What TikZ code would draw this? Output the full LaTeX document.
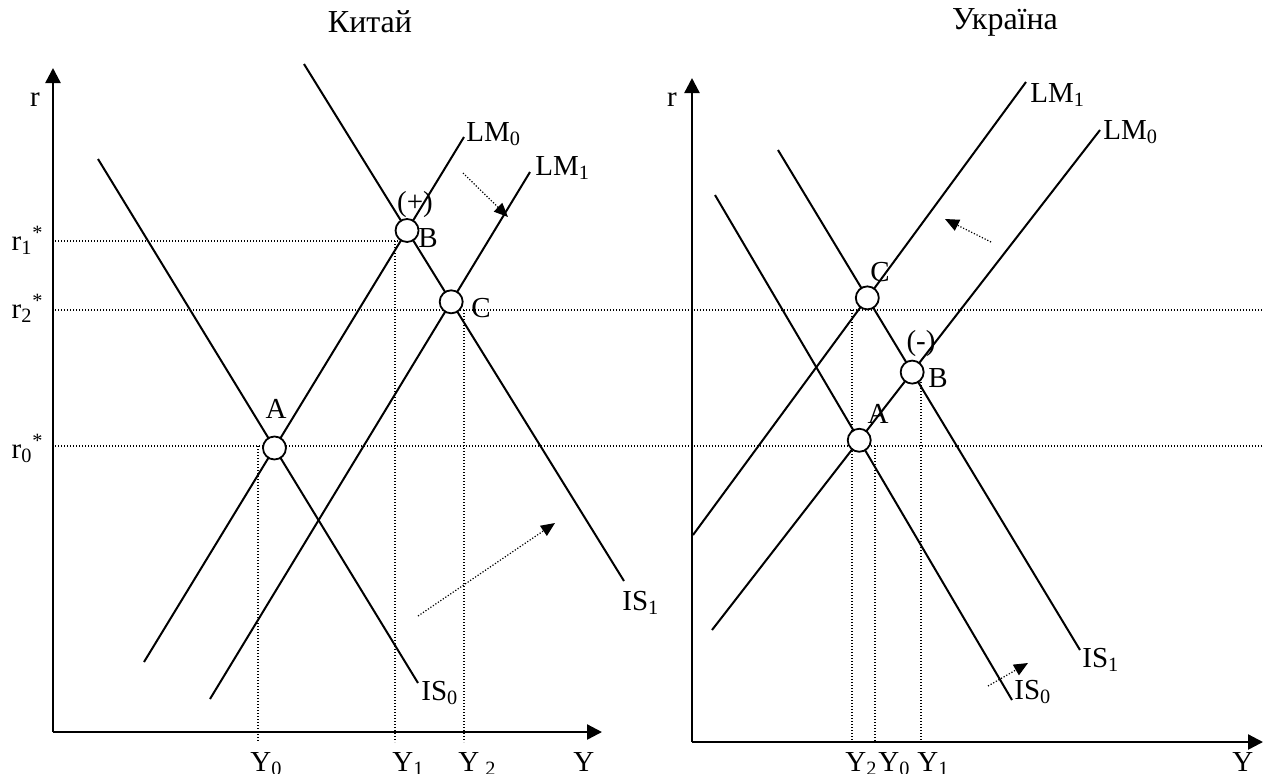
\documentclass[tikz,border=0pt]{standalone}
\usepackage{fontspec}
\setmainfont{Liberation Serif}
\usetikzlibrary{arrows.meta}
\begin{document}
\begin{tikzpicture}[x=0.5pt,y=-0.5pt]
\tikzset{
  curve/.style={line width=1pt},
  axisline/.style={line width=1.2pt,-{Triangle[length=7.5pt,width=7.5pt]}},
  guide/.style={line width=0.6pt,dash pattern=on 0.6pt off 0.9pt},
  shiftarrow/.style={guide,-{Triangle[length=7pt,width=6pt]}},
  eqpt/.style={circle,draw,line width=0.9pt,fill=white,minimum size=11.5pt,inner sep=0pt},
  lbl/.style={font=\fontsize{14.5}{17}\selectfont,inner sep=0pt},
  ttl/.style={font=\fontsize{16}{19}\selectfont,inner sep=0pt},
}
\useasboundingbox (0,0) rectangle (1270,773);
% titles
\node[ttl] (t1) at (370,22) {Китай};
\node[ttl] (t2) at (1005,22) {Україна};
% ---------- axes
\coordinate (LO) at (53,732);
\coordinate (LYt) at (53,68);
\coordinate (LXr) at (602,732);
\coordinate (RO) at (692,742);
\coordinate (RYt) at (692,78);
\coordinate (RXr) at (1263,742);
% ---------- guide lines
\coordinate (g1a) at (55,241); \coordinate (g1b) at (404,241);
\coordinate (g2a) at (55,310); \coordinate (g2b) at (1262,310);
\coordinate (g0a) at (55,446); \coordinate (g0b) at (1262,446);
\draw[guide] (g1a) -- (g1b);
\draw[guide] (g2a) -- (g2b);
\draw[guide] (g0a) -- (g0b);
\coordinate (v0a) at (258,446); \coordinate (v0b) at (258,742);
\coordinate (v1a) at (395,241); \coordinate (v1b) at (395,742);
\coordinate (v2a) at (464,310); \coordinate (v2b) at (464,742);
\draw[guide] (v0a) -- (v0b);
\draw[guide] (v1a) -- (v1b);
\draw[guide] (v2a) -- (v2b);
\coordinate (w2a) at (852,310); \coordinate (w2b) at (852,742);
\coordinate (w0a) at (875,446); \coordinate (w0b) at (875,742);
\coordinate (w1a) at (921,370); \coordinate (w1b) at (921,742);
\draw[guide] (w2a) -- (w2b);
\draw[guide] (w0a) -- (w0b);
\draw[guide] (w1a) -- (w1b);
% axes drawn
\draw[axisline] (LO) -- (LYt);
\draw[axisline] (LO) -- (LXr);
\draw[axisline] (RO) -- (RYt);
\draw[axisline] (RO) -- (RXr);
% ---------- left curves
\coordinate (is0a) at (98,159);  \coordinate (is0b) at (418,683);
\coordinate (is1a) at (304,64);  \coordinate (is1b) at (624,581);
\coordinate (lm0a) at (144,662); \coordinate (lm0b) at (464,137);
\coordinate (lm1a) at (210,699); \coordinate (lm1b) at (530,172);
\draw[curve] (is0a) -- (is0b);
\draw[curve] (is1a) -- (is1b);
\draw[curve] (lm0a) -- (lm0b);
\draw[curve] (lm1a) -- (lm1b);
% ---------- right curves
\coordinate (ris0a) at (715,195);  \coordinate (ris0b) at (1012,700);
\coordinate (ris1a) at (778,150);  \coordinate (ris1b) at (1080,650);
\coordinate (rlm0a) at (712,630);  \coordinate (rlm0b) at (1100,130);
\coordinate (rlm1a) at (693,535);  \coordinate (rlm1b) at (1026,82);
\draw[curve] (ris0a) -- (ris0b);
\draw[curve] (ris1a) -- (ris1b);
\draw[curve] (rlm0a) -- (rlm0b);
\draw[curve] (rlm1a) -- (rlm1b);
% ---------- shift arrows
\coordinate (la1s) at (463,173); \coordinate (la1e) at (508,217);
\coordinate (la2s) at (418,616); \coordinate (la2e) at (555,523);
\coordinate (ra1s) at (991,242); \coordinate (ra1e) at (945,219);
\coordinate (ra2s) at (988,686); \coordinate (ra2e) at (1028,663);
\draw[shiftarrow] (la1s) -- (la1e);
\draw[shiftarrow] (la2s) -- (la2e);
\draw[shiftarrow] (ra1s) -- (ra1e);
\draw[shiftarrow] (ra2s) -- (ra2e);
% ---------- equilibrium points
\node[eqpt] (A) at (intersection of is0a--is0b and lm0a--lm0b) {};
\node[eqpt] (B) at (intersection of is1a--is1b and lm0a--lm0b) {};
\node[eqpt] (C) at (intersection of is1a--is1b and lm1a--lm1b) {};
\node[eqpt] (RA) at (intersection of ris0a--ris0b and rlm0a--rlm0b) {};
\node[eqpt] (RB) at (intersection of ris1a--ris1b and rlm0a--rlm0b) {};
\node[eqpt] (RC) at (intersection of ris1a--ris1b and rlm1a--rlm1b) {};
% ---------- labels left
\node[lbl] (lr) at (35,100) {r};
\node[lbl,anchor=base east] (lr1) at (44,250) {r\textsubscript{1}\textsuperscript{*}};
\node[lbl,anchor=base east] (lr2) at (44,318) {r\textsubscript{2}\textsuperscript{*}};
\node[lbl,anchor=base east] (lr0) at (44,458) {r\textsubscript{0}\textsuperscript{*}};
\node[lbl,anchor=west] (llm0) at (466,134) {LM\textsubscript{0}};
\node[lbl,anchor=west] (llm1) at (535,168) {LM\textsubscript{1}};
\node[lbl,anchor=west] (lis0) at (421,693) {IS\textsubscript{0}};
\node[lbl,anchor=west] (lis1) at (622,603) {IS\textsubscript{1}};
\node[lbl] (lplus) at (415,205) {(+)};
\node[lbl] (lB) at (428,238) {B};
\node[lbl] (lC) at (481,308) {C};
\node[lbl] (lA) at (276,409) {A};
\node[lbl,anchor=base west] (ly0) at (250,771) {Y\textsubscript{0}};
\node[lbl,anchor=base west] (ly1) at (392,771) {Y\textsubscript{1}};
\node[lbl,anchor=base west] (ly2) at (458,771) {Y\hspace{3pt}\textsubscript{2}};
\node[lbl,anchor=base west] (ly) at (573,771) {Y};
% ---------- labels right
\node[lbl] (rr) at (672,100) {r};
\node[lbl,anchor=west] (rlm1l) at (1030,95) {LM\textsubscript{1}};
\node[lbl,anchor=west] (rlm0l) at (1103,132) {LM\textsubscript{0}};
\node[lbl,anchor=west] (ris0l) at (1014,692) {IS\textsubscript{0}};
\node[lbl,anchor=west] (ris1l) at (1082,660) {IS\textsubscript{1}};
\node[lbl] (rminus) at (921,344) {(-)};
\node[lbl] (rBl) at (938,378) {B};
\node[lbl] (rAl) at (878,414) {A};
\node[lbl] (rCl) at (880,272) {C};
\node[lbl,anchor=base west] (ry2) at (845,771) {Y\textsubscript{2}};
\node[lbl,anchor=base west] (ry0) at (878,771) {Y\textsubscript{0}};
\node[lbl,anchor=base west] (ry1) at (917,771) {Y\textsubscript{1}};
\node[lbl,anchor=base west] (ry) at (1232,771) {Y};
\end{tikzpicture}
\end{document}
